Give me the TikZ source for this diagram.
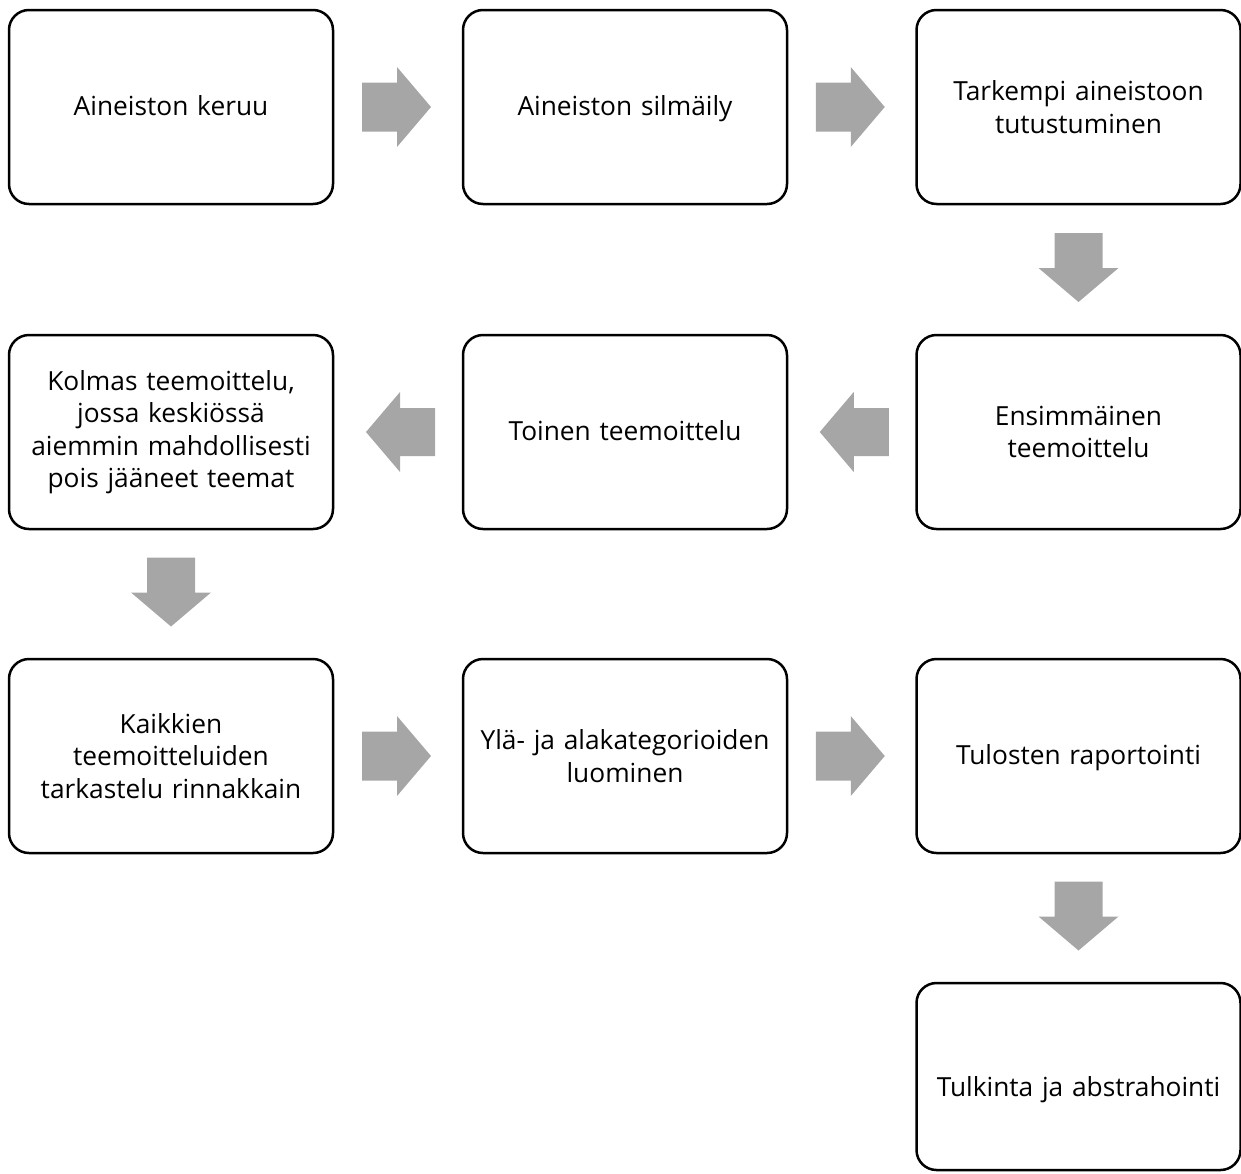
\documentclass[tikz,border=0pt]{standalone}
\usepackage{fontspec}
\setmainfont{Open Sans}
\usetikzlibrary{calc}
\definecolor{arrowgray}{HTML}{A6A6A6}
\newcommand{\mystrut}{\rule[-8pt]{0pt}{33pt}}
\tikzset{
  stage/.style={draw=black, line width=2.5pt, rounded corners=20pt, fill=white,
    minimum width=324pt, minimum height=194pt, text width=310pt, align=center,
    inner sep=0pt, font=\fontsize{26.3}{32.5}\selectfont},
  blockarrow/.style={fill=arrowgray, draw=none}
}
\begin{document}
\begin{tikzpicture}[x=1pt,y=-1pt]
\useasboundingbox (0,0) rectangle (1241,1173);
% row 1
\node[stage] (a1) at (171,107) {\mystrut Aineiston keruu};
\node[stage] (a2) at (625,107) {\mystrut Aineiston silmäily};
\node[stage] (a3) at (1078.5,107) {Tarkempi aineistoon\\tutustuminen};
% row 2
\node[stage] (b3) at (1078.5,432) {Ensimmäinen\\teemoittelu};
\node[stage] (b2) at (625,432) {\mystrut Toinen teemoittelu};
\node[stage] (b1) at (171,432) {Kolmas teemoittelu,\\jossa keskiössä\\aiemmin mahdollisesti\\pois jääneet teemat};
% row 3
\node[stage] (c1) at (171,756) {Kaikkien\\teemoitteluiden\\tarkastelu rinnakkain};
\node[stage] (c2) at (625,756) {Ylä- ja alakategorioiden\\luominen};
\node[stage] (c3) at (1078.5,756) {\mystrut Tulosten raportointi};
% row 4
\node[stage, minimum height=187pt, text height=47pt, text depth=8pt] (d3) at (1078.5,1076.5) {Tulkinta ja abstrahointi};
% right arrows
\foreach \p/\q in {a1/a2, a2/a3, c1/c2, c2/c3}{
  \fill[blockarrow] ($(\p.east)!0.5!(\q.west)$) ++(-36,-24.5) -- ++(35,0) -- ++(0,-15.5)
    -- ++(34,40) -- ++(-34,40) -- ++(0,-15.5) -- ++(-35,0) -- cycle;
}
% left arrows
\foreach \p/\q in {b3/b2, b2/b1}{
  \fill[blockarrow] ($(\p.west)!0.5!(\q.east)$) ++(37,-24) -- ++(-35,0) -- ++(0,-16)
    -- ++(-34,40) -- ++(34,40) -- ++(0,-16) -- ++(35,0) -- cycle;
}
% down arrows
\foreach \p/\q in {a3/b3, b1/c1, c3/d3}{
  \fill[blockarrow] ($(\p.south)!0.5!(\q.north)$) ++(-24,-36.5) -- ++(0,35) -- ++(-16,0)
    -- ++(40,34) -- ++(40,-34) -- ++(-16,0) -- ++(0,-35) -- cycle;
}
\end{tikzpicture}
\end{document}
